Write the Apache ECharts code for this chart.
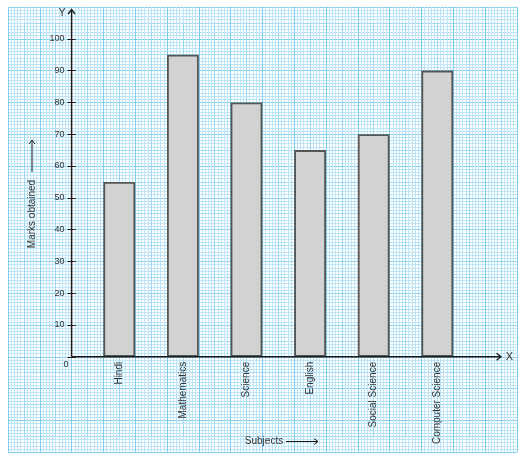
<!DOCTYPE html>
<html>
<head>
<meta charset="utf-8">
<script src="https://cdn.jsdelivr.net/npm/echarts@6/dist/echarts.min.js"></script>
<style>
  html, body { margin: 0; padding: 0; background: #fff; }
  #chart { width: 526px; height: 459px; }
</style>
</head>
<body>
<div id="chart"></div>
<script>
// data
var subjects = ["Hindi", "Mathematics", "Science", "English", "Social Science", "Computer Science"];
var marks = [55, 95, 80, 65, 70, 90];
var yMin = 0, yMax = 100, yStep = 10;

// graph paper geometry
var cell = 31.8;
var paperLeft = 8, paperTop = 7, paperCols = 16, paperRows = 14;
var ox = paperLeft + 2 * cell;            // origin x (y axis)
var oy = paperTop + 11 * cell;            // origin y (x axis)

var major = "#7fccef", half = "#9cd8f3", minor = "#bde5f7";
var ink = "#1a1a1a", txt = "#333";
var font = "Liberation Sans, Arial, sans-serif";

function paperAxis(idx, max, color, withMinor) {
  return {
    type: "value", gridIndex: idx, min: 0, max: max, interval: 1,
    axisLine: { show: false }, axisTick: { show: false }, axisLabel: { show: false },
    splitLine: { show: true, lineStyle: { color: color, width: 1 } },
    minorTick: { show: false, splitNumber: 10 },
    minorSplitLine: { show: !!withMinor, lineStyle: { color: minor, width: 1 } }
  };
}

var myChart = echarts.init(document.getElementById("chart"));
var option = {
  backgroundColor: "#fff",
  animation: false,
  grid: [
    { left: paperLeft, top: paperTop, width: paperCols * cell, height: paperRows * cell },
    { left: paperLeft + cell / 2, top: paperTop + cell / 2, width: (paperCols - 1) * cell, height: (paperRows - 1) * cell },
    { left: paperLeft + 2.5 * cell, top: paperTop + cell, width: 12 * cell, height: 10 * cell }
  ],
  xAxis: [
    paperAxis(0, paperCols, major, true),
    paperAxis(1, paperCols - 1, half, false),
    {
      type: "category", gridIndex: 2, data: subjects,
      axisLine: { show: false }, axisTick: { show: false },
      axisLabel: { rotate: 90, margin: 5, fontSize: 10, color: txt, fontFamily: font, interval: 0 }
    }
  ],
  yAxis: [
    paperAxis(0, paperRows, major, true),
    paperAxis(1, paperRows - 1, half, false),
    {
      type: "value", gridIndex: 2, min: yMin, max: yMax, interval: yStep,
      position: "left", offset: cell / 2,
      axisLine: { show: false },
      axisTick: { show: true, length: 4, lineStyle: { color: ink, width: 1 } },
      axisLabel: {
        margin: 7, fontSize: 9, color: txt, fontFamily: font,
        formatter: function (v) { return v === 0 ? "" : v; }
      },
      splitLine: { show: false }
    },
    {
      type: "value", gridIndex: 2, min: yMin, max: yMax, interval: yStep,
      position: "left", offset: cell / 2,
      axisLine: { show: false },
      axisTick: { show: true, inside: true, length: 4, lineStyle: { color: ink, width: 1 } },
      axisLabel: { show: false },
      splitLine: { show: false }
    }
  ],
  series: [
    {
      name: "Marks obtained",
      type: "bar",
      xAxisIndex: 2, yAxisIndex: 2,
      data: marks,
      barWidth: cell,
      itemStyle: { color: "#d2d2d2", borderColor: "#555", borderWidth: 1.8 }
    }
  ],
  graphic: [
    // axes
    { type: "line", z: 100, shape: { x1: ox, y1: oy, x2: ox, y2: 9 }, style: { stroke: ink, lineWidth: 1.5 } },
    { type: "polyline", z: 100, shape: { points: [[ox - 3.5, 14], [ox, 9.5], [ox + 3.5, 14]] }, style: { stroke: ink, lineWidth: 1.3, fill: null } },
    { type: "line", z: 100, shape: { x1: ox, y1: oy, x2: 501, y2: oy }, style: { stroke: ink, lineWidth: 1.5 } },
    { type: "polyline", z: 100, shape: { points: [[496.5, oy - 3.5], [501, oy], [496.5, oy + 3.5]] }, style: { stroke: ink, lineWidth: 1.3, fill: null } },
    { type: "text", z: 100, x: 62, y: 13, style: { text: "Y", font: "10px " + font, fill: txt, textAlign: "center", textVerticalAlign: "middle" } },
    { type: "text", z: 100, x: 509.5, y: oy + 0.5, style: { text: "X", font: "11px " + font, fill: txt, textAlign: "center", textVerticalAlign: "middle" } },
    { type: "text", z: 100, x: 66, y: 365, style: { text: "0", font: "9px " + font, fill: txt, textAlign: "center", textVerticalAlign: "middle" } },
    // axis titles
    { type: "text", z: 100, x: 264, y: 441, style: { text: "Subjects", font: "10px " + font, fill: txt, textAlign: "center", textVerticalAlign: "middle" } },
    { type: "line", z: 100, shape: { x1: 286, y1: 441.5, x2: 318, y2: 441.5 }, style: { stroke: ink, lineWidth: 1 } },
    { type: "polyline", z: 100, shape: { points: [[314, 438.5], [318, 441.5], [314, 444.5]] }, style: { stroke: ink, lineWidth: 1, fill: null } },
    { type: "text", z: 100, x: 32, y: 214, rotation: Math.PI / 2, style: { text: "Marks obtained", font: "10px " + font, fill: txt, textAlign: "center", textVerticalAlign: "middle" } },
    { type: "line", z: 100, shape: { x1: 32, y1: 172, x2: 32, y2: 140 }, style: { stroke: ink, lineWidth: 1 } },
    { type: "polyline", z: 100, shape: { points: [[29, 144], [32, 140], [35, 144]] }, style: { stroke: ink, lineWidth: 1, fill: null } }
  ]
};
myChart.setOption(option);
</script>
</body>
</html>
